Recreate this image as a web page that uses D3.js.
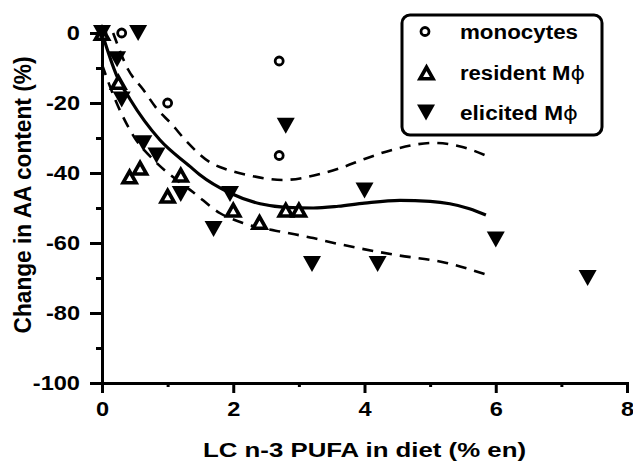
<!DOCTYPE html>
<html>
<head>
<meta charset="utf-8">
<script src="https://cdn.jsdelivr.net/npm/d3@7"></script>
<style>
  html, body { margin: 0; padding: 0; background: #fff; }
  svg { display: block; }
  text { font-family: "Liberation Sans", Arial, Helvetica, sans-serif; font-weight: bold; fill: #000; }
</style>
</head>
<body>
<svg id="chart" width="633" height="463"></svg>
<script>
// ---- data ----
const monocytesX = [0, 0.3, 1.0, 2.7, 2.7];
const monocytesY = [0, 0, -20, -8, -35];

const residentX = [0, 0.25, 0.42, 0.58, 1.0, 1.2, 2.0, 2.4, 2.8, 3.0];
const residentY = [0, -14, -41, -38.5, -46.5, -40.5, -50.5, -54, -50.5, -50.5];

const elicitedX = [0, 0.55, 0.23, 0.3, 0.63, 0.83, 1.2, 1.95, 1.7, 2.8, 4.0, 3.2, 4.2, 6.0, 7.4];
const elicitedY = [0, 0, -7.5, -19, -31.5, -35, -46, -46, -56, -26.5, -45, -66, -66, -59, -70];

// fitted curve and confidence band
const fitX = [0, 0.22, 0.43, 0.88, 1.34, 1.49, 1.95, 2.41, 2.8, 3.22, 3.6, 4.0, 4.54, 5.0, 5.3, 5.6, 5.85];
const fitY = [0, -12, -19, -30.5, -38.1, -40.5, -45.7, -48.8, -49.8, -50, -49.5, -48.6, -47.8, -48.1, -48.8, -50.2, -52];

const upperX = [0.17, 0.4, 0.63, 0.83, 1.06, 1.29, 1.65, 1.9, 2.2, 2.76, 3.32, 3.63, 4.0, 4.44, 5.05, 5.46, 5.85];
const upperY = [0, -10.5, -16.2, -21.5, -26, -31, -37, -39, -40.5, -42, -40.3, -38.6, -36, -33.3, -31.4, -32.4, -35];

const lowerX = [0, 0.2, 0.5, 0.8, 1.14, 1.39, 1.8, 2.15, 2.71, 3.22, 3.42, 4.44, 5.25, 5.85];
const lowerY = [-9, -19, -30, -36.5, -42, -45.5, -51.5, -54.3, -56.7, -58.6, -59.5, -63.3, -65.7, -69];

const xMajorTicks = [0, 2, 4, 6, 8];
const xMinorTicks = [1, 3, 5, 7];
const yMajorTicks = [0, -20, -40, -60, -80, -100];
const yMinorTicks = [-10, -30, -50, -70, -90];

const xTitle = "LC n-3 PUFA in diet (% en)";
const yTitle = "Change in AA content (%)";
const legendLabels = ["monocytes", "resident M", "elicited M"];
const phi = "\u03D5";

// ---- layout ----
const svg = d3.select("#chart");
const x = d3.scaleLinear().domain([0, 8]).range([102, 627]);
const y = d3.scaleLinear().domain([-100, 0]).range([383, 33]);
const TX = 1.18; // horizontal stretch of text in the reference

const ax = svg.append("g");
const fmt = d => String(d); // plain hyphen-minus like the reference

// y axis
ax.append("g").attr("transform", `translate(${x(0)},0)`)
  .call(d3.axisLeft(y).tickValues(yMinorTicks).tickSize(6).tickFormat(""));
const yMajor = ax.append("g").attr("transform", `translate(${x(0)},0)`)
  .call(d3.axisLeft(y).tickValues(yMajorTicks).tickSize(12).tickPadding(10).tickSizeOuter(0).tickFormat(fmt));
// x axis
ax.append("g").attr("transform", `translate(0,${y(-100)})`)
  .call(d3.axisBottom(x).tickValues(xMinorTicks).tickSize(4).tickFormat(""));
const xMajor = ax.append("g").attr("transform", `translate(0,${y(-100)})`)
  .call(d3.axisBottom(x).tickValues(xMajorTicks).tickSize(10).tickPadding(9).tickSizeOuter(0).tickFormat(fmt));

ax.selectAll(".domain").attr("stroke", "#000").attr("stroke-width", 3).attr("stroke-linecap", "square");
ax.selectAll(".tick line").attr("stroke", "#000").attr("stroke-width", 3);
ax.selectAll(".tick text").style("font-size", "20px").attr("font-family", null).attr("fill", "#000");

// stretch tick labels horizontally while keeping anchor in place
yMajor.selectAll(".tick text").each(function () {
  const t = d3.select(this);
  const x0 = +t.attr("x");
  t.attr("x", x0 / TX).attr("transform", `scale(${TX},1)`);
});
xMajor.selectAll(".tick text").attr("transform", `scale(${TX},1)`);

// axis titles
svg.append("text")
  .attr("x", (x(0) + x(8)) / 2).attr("y", 457)
  .attr("text-anchor", "middle")
  .style("font-size", "21px")
  .attr("textLength", 323).attr("lengthAdjust", "spacingAndGlyphs")
  .text(xTitle);

svg.append("g").attr("transform", `translate(31,195) rotate(-90) scale(1,${TX})`)
  .append("text")
  .attr("text-anchor", "middle")
  .style("font-size", "21px")
  .attr("textLength", 277).attr("lengthAdjust", "spacingAndGlyphs")
  .text(yTitle);

// ---- curves ----
const line = d3.line().x(d => x(d[0])).y(d => y(d[1])).curve(d3.curveMonotoneX);
const zip = (a, b) => a.map((v, i) => [v, b[i]]);

svg.append("path").attr("d", line(zip(upperX, upperY)))
  .attr("fill", "none").attr("stroke", "#000").attr("stroke-width", 2.6).attr("stroke-dasharray", "11,8");
svg.append("path").attr("d", line(zip(lowerX, lowerY)))
  .attr("fill", "none").attr("stroke", "#000").attr("stroke-width", 2.6).attr("stroke-dasharray", "11,8");
svg.append("path").attr("d", line(zip(fitX, fitY)))
  .attr("fill", "none").attr("stroke", "#000").attr("stroke-width", 3.2);

// ---- markers ----
const triUp = (w, h) => `M0,${-h / 2}L${w / 2},${h / 2}L${-w / 2},${h / 2}Z`;
const triDown = (w, h) => `M${-w / 2},${-h / 2}L${w / 2},${-h / 2}L0,${h / 2}Z`;

function drawCircle(g, cx, cy) {
  g.append("circle").attr("cx", cx).attr("cy", cy).attr("r", 4)
    .attr("fill", "#fff").attr("stroke", "#000").attr("stroke-width", 2.8);
}
function drawUp(g, cx, cy) {
  g.append("path").attr("d", triUp(13, 11.5)).attr("transform", `translate(${cx},${cy + 0.5})`)
    .attr("fill", "#fff").attr("stroke", "#000").attr("stroke-width", 3.6).attr("stroke-linejoin", "miter");
}
function drawDown(g, cx, cy) {
  g.append("path").attr("d", triDown(18, 16)).attr("transform", `translate(${cx},${cy})`)
    .attr("fill", "#000");
}

const pts = svg.append("g");
monocytesX.forEach((v, i) => drawCircle(pts, x(v), y(monocytesY[i])));
residentX.forEach((v, i) => drawUp(pts, x(v), y(residentY[i])));
elicitedX.forEach((v, i) => drawDown(pts, x(v), y(elicitedY[i])));

// ---- legend ----
const lg = svg.append("g");
lg.append("rect").attr("x", 402).attr("y", 15).attr("width", 200).attr("height", 120)
  .attr("rx", 8).attr("ry", 8).attr("fill", "#fff").attr("stroke", "#000").attr("stroke-width", 3);
const rowsY = [31.5, 72.5, 112.5];
drawCircle(lg, 425, rowsY[0]);
drawUp(lg, 426.5, rowsY[1]);
drawDown(lg, 426, rowsY[2]);
const legendWidths = [118, 125, 118];
legendLabels.forEach((lab, i) => {
  const t = lg.append("text").attr("x", 460).attr("y", rowsY[i] + 7)
    .style("font-size", "20px")
    .attr("textLength", legendWidths[i]).attr("lengthAdjust", "spacingAndGlyphs");
  t.append("tspan").text(lab);
  if (i > 0) t.append("tspan").style("font-weight", "normal").attr("font-family", "DejaVu Sans").text(phi);
});
</script>
</body>
</html>
